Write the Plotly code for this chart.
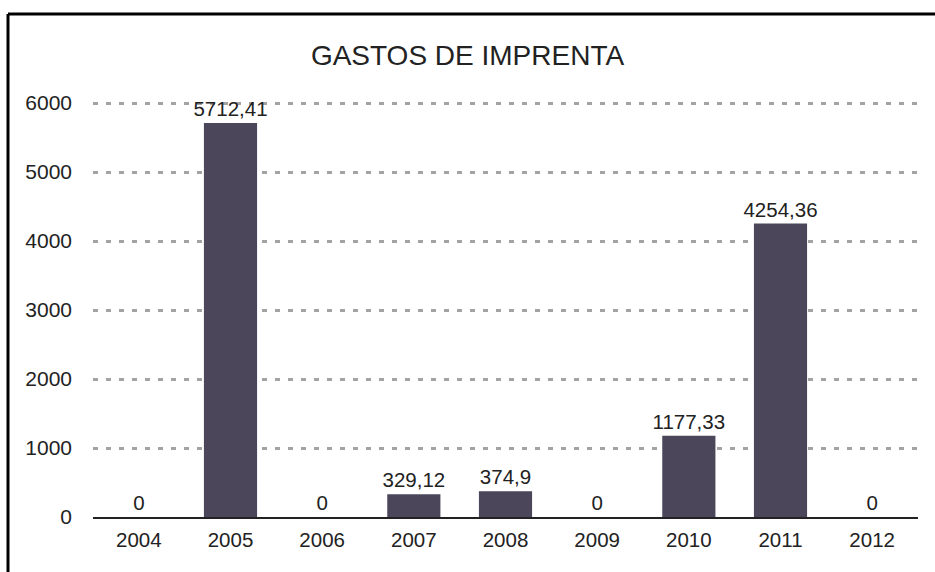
import plotly.graph_objects as go

years = ["2004", "2005", "2006", "2007", "2008", "2009", "2010", "2011", "2012"]
values = [0, 5712.41, 0, 329.12, 374.9, 0, 1177.33, 4254.36, 0]
labels = [f"{v:g}".replace(".", ",") for v in values]
y_ticks = [0, 1000, 2000, 3000, 4000, 5000, 6000]

W, H = 935, 572
y_max = 6030
L, R, B = 93, 17, 55
T = 103 - round((y_max - 6000) * 0.069)
pw, ph = W - L - R, H - T - B

def px_x(x):
    return (x - L) / pw

def px_y(y):
    return (H - B - y) / ph

fig = go.Figure()
fig.add_trace(go.Bar(
    x=years, y=values, text=labels, textposition="outside",
    textfont=dict(size=20.5, color="#222222"),
    constraintext="none",
    marker=dict(color="#4b4659", line=dict(width=0)),
    cliponaxis=False,
))

fig.update_layout(
    width=W, height=H,
    margin=dict(l=L, r=R, t=T, b=B),
    paper_bgcolor="white", plot_bgcolor="white",
    font=dict(family="Liberation Sans, Arial, sans-serif", size=21, color="#222222"),
    title=dict(text="GASTOS DE IMPRENTA", x=0.5, xanchor="center", y=1 - 55 / H,
               yanchor="middle", font=dict(size=28, color="#222222")),
    bargap=0.42,
    showlegend=False,
    xaxis=dict(showline=True, linecolor="#222222", linewidth=2, ticks="",
               showgrid=False, tickfont=dict(size=20.5), range=[-0.5, 8.5],
               ticklabelstandoff=3),
    yaxis=dict(range=[0, y_max], tickvals=y_ticks, showline=False, zeroline=False,
               showgrid=True, gridcolor="#a3a3a3", gridwidth=2.5, griddash="5px,8px",
               tickfont=dict(size=21), ticklabelstandoff=20),
    shapes=[
        dict(type="line", xref="paper", yref="paper", x0=px_x(8), x1=px_x(945),
             y0=px_y(14), y1=px_y(14), line=dict(color="black", width=3)),
        dict(type="line", xref="paper", yref="paper", x0=px_x(8), x1=px_x(8),
             y0=px_y(14), y1=px_y(580), line=dict(color="black", width=3)),
    ],
)

fig.write_html("out.html", post_script="document.body.style.margin='0';",
               config={"displayModeBar": False})
